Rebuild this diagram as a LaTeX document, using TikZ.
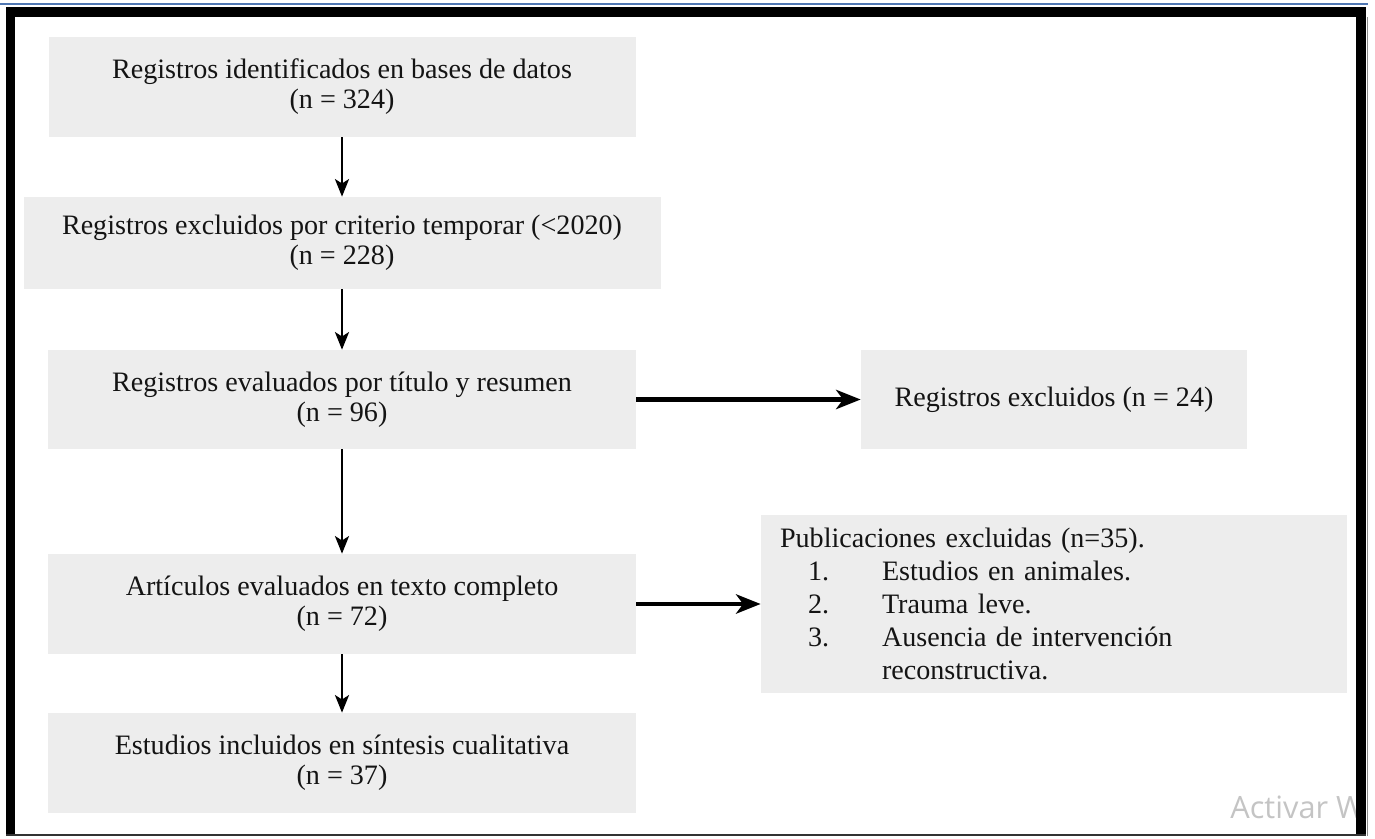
\documentclass[tikz,border=0pt]{standalone}
\usepackage{fontspec}
\setmainfont{Liberation Serif}
\newfontfamily\marcafont{Open Sans}
\usetikzlibrary{arrows.meta}
\newlength\px
\setlength{\px}{0.02cm}
\definecolor{cajagris}{HTML}{EDEDED}
\definecolor{lineaazul}{RGB}{79,119,179}
\definecolor{marcagris}{HTML}{C4C4C4}

\begin{document}
\begin{tikzpicture}[x=1\px, y=-1\px,
  caja/.style={fill=cajagris, align=center, inner sep=0pt,
    font=\fontsize{16}{17}\selectfont, text=black!92},
  flecha/.style={line width=1.4pt, -{Stealth[length=10pt,width=8pt,inset=2.5pt]}},
  flechagruesa/.style={line width=2.3pt, -{Stealth[length=14pt,width=11pt,inset=4pt]}}]
  \useasboundingbox (0,0) rectangle (1375,838);
  % columna principal
  \node[caja, minimum width=587\px, minimum height=100\px] (ident) at (342,87)
    {Registros identificados en bases de datos\\(n = 324)};
  \node[caja, minimum width=637\px, minimum height=92\px] (temporal) at (342,243)
    {Registros excluidos por criterio temporar (<2020)\\(n = 228)};
  \node[caja, minimum width=588\px, minimum height=99\px] (cribado) at (342,399.5)
    {Registros evaluados por título y resumen\\(n = 96)};
  \node[caja, minimum width=588\px, minimum height=100\px] (texto) at (342,604)
    {Artículos evaluados en texto completo\\(n = 72)};
  \node[caja, minimum width=588\px, minimum height=100\px] (incl) at (342,763)
    {Estudios incluidos en síntesis cualitativa\\(n = 37)};
  % exclusiones a la derecha
  \node[caja, minimum width=386\px, minimum height=99\px] (excl1) at (1054,399.5)
    {Registros excluidos (n = 24)};
  \node[caja, align=left, text width=548\px, inner xsep=19\px, minimum height=178\px,
    font=\fontsize{16}{18.8}\selectfont] (excl2) at (1054,604)
    {Publicaciones excluidas (n=35).\\
     \hspace*{28\px}\makebox[74\px][l]{1.}Estudios en animales.\\
     \hspace*{28\px}\makebox[74\px][l]{2.}Trauma leve.\\
     \hspace*{28\px}\makebox[74\px][l]{3.}Ausencia de intervención\\
     \hspace*{102\px}reconstructiva.};
  %The vertical arrows are drawn with a loop.
  \foreach \a/\b in {ident/temporal, temporal/cribado, cribado/texto, texto/incl}
  {
     \draw[flecha] (\a) -- (\b);
  }
  \draw[flechagruesa] (cribado) -- (excl1);
  \draw[flechagruesa] (texto) -- (excl2);
  % marca de agua
  \node[anchor=base west, inner sep=0pt, text=marcagris,
    font=\marcafont\fontsize{17.5}{20}\selectfont] (marca) at (1230,818) {Activar W};
  % marco de la captura
  \draw[lineaazul, line width=2\px] (0,4.5) -- (1368,4.5);
  \fill[black] (6,7) rectangle (1366,17);
  \fill[black] (6,7) rectangle (15,836);
  \fill[black] (1356,7) rectangle (1366,836);
  \draw[black!80, line width=2\px] (6,835) -- (1366,835);
  \draw[black!45, line width=1\px] (1367,17) -- (1367,836);
\end{tikzpicture}
\end{document}
